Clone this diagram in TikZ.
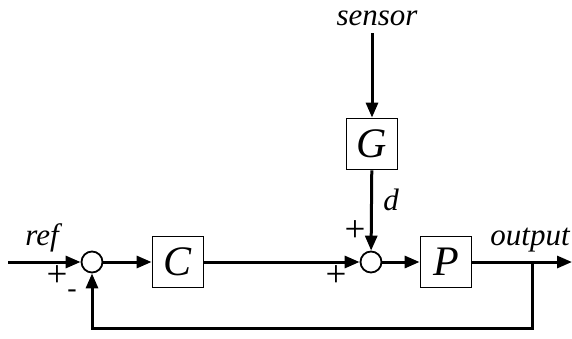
\documentclass[tikz,border=0pt]{standalone}
\usepackage{fontspec}
\setmainfont{Liberation Serif}
\usetikzlibrary{arrows.meta}
\begin{document}
\begin{tikzpicture}[x=1bp,y=-1bp,
  sig/.style={line width=3bp,-{Triangle[length=15bp,width=12bp]}},
  blk/.style={draw,line width=1.8bp,minimum width=51bp,minimum height=51bp,inner sep=0pt,font=\fontsize{42bp}{42bp}\selectfont\itshape},
  sumj/.style={draw,circle,line width=1.8bp,minimum size=21bp,inner sep=0pt},
  lbl/.style={font=\fontsize{31bp}{31bp}\selectfont\itshape,inner sep=0pt},
  sgn/.style={font=\fontsize{37bp}{37bp}\selectfont,inner sep=0pt},
  neg/.style={font=\fontsize{28bp}{28bp}\selectfont,inner sep=0pt}]
\useasboundingbox (0,0) rectangle (572,338);
\node[sumj] (s1) at (92,262) {};
\node[blk] (C) at (178,262) {C};
\node[sumj] (s2) at (371,262) {};
\node[blk] (P) at (446,262) {P};
\node[blk] (G) at (372,144) {G};
\coordinate (in) at (8,262);
\coordinate (out) at (572,262);
\coordinate (br) at (532,262);
\coordinate (fb1) at (532,328);
\coordinate (fb2) at (92,328);
\coordinate (sen) at (372,33);
\draw[sig] (in) -- (s1);
\draw[sig] (s1) -- (C);
\draw[sig] (C) -- (s2);
\draw[sig] (s2) -- (P);
\draw[sig] (P) -- (out);
\draw[sig] (br) -- (fb1) -- (fb2) -- (s1);
\draw[sig] (sen) -- (G);
\draw[sig] (G) -- (s2);
\node[lbl,anchor=base] (tref) at (42,245) {ref};
\node[lbl,anchor=base] (tout) at (530,245) {output};
\node[lbl,anchor=base] (tsen) at (377,25) {sensor};
\node[lbl,anchor=base] (td) at (391,210) {d};
\node[sgn] (p1) at (57,276) {+};
\node[neg] (m1) at (72,294) {-};
\node[sgn] (p2) at (355,231) {+};
\node[sgn] (p3) at (336,276) {+};
\end{tikzpicture}
\end{document}
